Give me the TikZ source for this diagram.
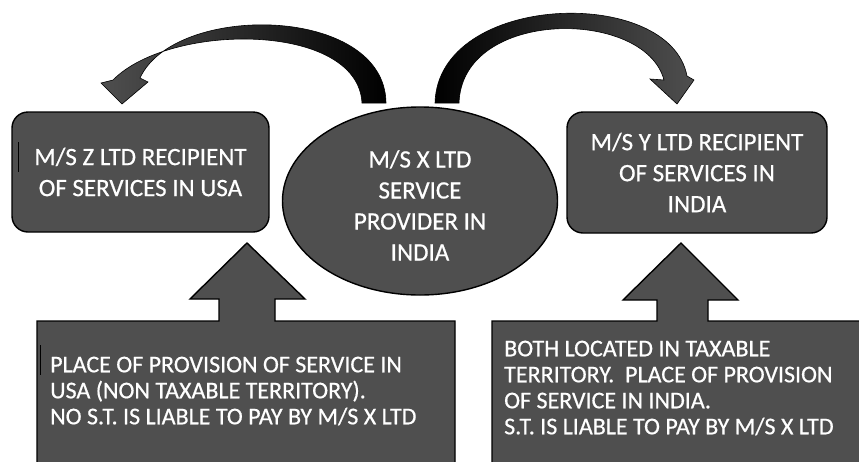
\documentclass[tikz,border=0pt]{standalone}
\usepackage{fontspec}
\setmainfont{Carlito}[FakeBold=0.6]
\usetikzlibrary{shapes.geometric}
\definecolor{boxgray}{HTML}{4F4F4F}

\begin{document}
\begin{tikzpicture}[x=1pt,y=-1pt,
        party/.style={draw=black, line width=1.4pt, fill=boxgray, text=white,
            font=\fontsize{25}{31}\selectfont, align=center, inner sep=0pt},
        note/.style={text=white, font=\fontsize{24}{26}\selectfont, align=left,
            anchor=west, inner sep=0pt},
        blockarrow/.style={draw=black, line width=1.4pt, fill=boxgray}]
        \clip (0,0) rectangle (859,461);
        % curved arrows from the provider
        \shade[draw=black, line width=0.6pt, left color=boxgray, right color=black]
            (386,103) .. controls (385,5) and (175,2) .. (140,78)
            -- (148,82) -- (122,104) -- (101,83) -- (113,80)
            .. controls (170,22) and (358,22) .. (362,103) -- cycle;
        \shade[draw=black, line width=0.6pt, left color=black, right color=boxgray]
            (435,103) .. controls (438,-8) and (670,-15) .. (687,76)
            -- (694,80) -- (677,104) -- (650,79) -- (664,80)
            .. controls (645,8) and (462,8) .. (459,103) -- cycle;
        % parties
        \node[party, rounded corners=16pt, minimum width=257pt, minimum height=120pt]
            (usa) at (140.5,172) {M/S Z LTD RECIPIENT\\OF SERVICES IN USA};
        \node[party, rounded corners=16pt, minimum width=260pt, minimum height=121pt]
            (india) at (697,172.5) {M/S Y LTD RECIPIENT\\OF SERVICES IN\\INDIA};
        \node[party, ellipse, minimum width=275pt, minimum height=188pt]
            (provider) at (420,201) {\rule{0pt}{26pt}M/S X LTD\\SERVICE\\PROVIDER IN\\INDIA};
        % notes with block arrows
        \path[blockarrow] (37,480) -- (37,321) -- (219,321) -- (219,299) -- (190,299)
            -- (247,243) -- (305,299) -- (275,299) -- (275,321) -- (455,321) -- (455,480);
        \path[blockarrow] (492,480) -- (492,321) -- (657,321) -- (657,300) -- (623,300)
            -- (681,243) -- (738,300) -- (708,300) -- (708,321) -- (880,321) -- (880,480);
        \node[note] (usanote) at (50,391)
            {PLACE OF PROVISION OF SERVICE IN\\USA (NON TAXABLE TERRITORY).\\NO S.T. IS LIABLE TO PAY BY M/S X LTD};
        \node[note] (indianote) at (504,388)
            {BOTH LOCATED IN TAXABLE\\TERRITORY.\ \ PLACE OF PROVISION\\OF SERVICE IN INDIA.\\S.T. IS LIABLE TO PAY BY M/S X LTD};
        % cursor marks
        \draw[black, line width=0.8pt] (18,142) -- (18,172);
        \draw[black, line width=0.8pt] (40,345) -- (40,375);
\end{tikzpicture}
\end{document}
